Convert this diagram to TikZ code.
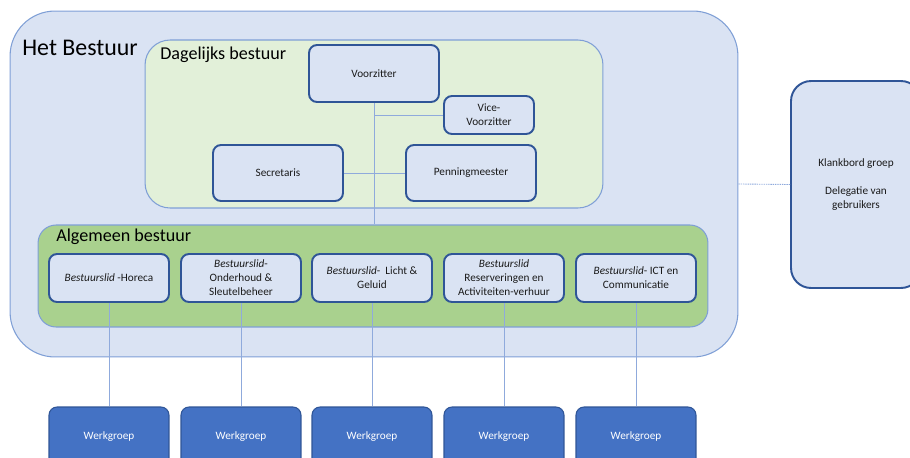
\documentclass[tikz,border=0pt]{standalone}
\usepackage{fontspec}
\setmainfont{Carlito}
\definecolor{bestuurfill}{HTML}{DAE3F3}
\definecolor{groupline}{HTML}{7F9FD6}
\definecolor{dagfill}{HTML}{E2F0D9}
\definecolor{algfill}{HTML}{A9D18E}
\definecolor{boxline}{HTML}{2F5597}
\definecolor{werkfill}{HTML}{4472C4}
\definecolor{linkline}{HTML}{8FAADC}
\definecolor{txt}{HTML}{1A1A1A}
\tikzset{
  group/.style={draw=groupline, line width=0.6pt},
  rolebox/.style={draw=boxline, fill=bestuurfill, line width=1.1pt, rounded corners=0.16cm,
    align=center, text=txt, inner sep=1pt, font=\fontsize{6.4}{8}\selectfont},
  werkbox/.style={draw=boxline, fill=werkfill, line width=0.6pt, rounded corners=0.16cm,
    text=white, minimum width=2.4cm, minimum height=1.2cm, font=\fontsize{6.4}{8}\selectfont},
  link/.style={draw=linkline, line width=0.5pt},
  title/.style={anchor=west, text=black, inner sep=0pt}
}
\begin{document}
\begin{tikzpicture}[x=0.02cm,y=-0.02cm]
    \clip (0,0) rectangle (910,457);
    % groepen
    \node[group, fill=bestuurfill, rounded corners=0.9cm, minimum width=14.56cm, minimum height=6.92cm] (bestuur) at (374,184) {};
    \node[group, fill=dagfill, rounded corners=0.5cm, minimum width=9.16cm, minimum height=3.36cm] (dagelijks) at (374,124) {};
    \node[group, fill=algfill, rounded corners=0.36cm, minimum width=13.4cm, minimum height=2.04cm] (algemeen) at (373,276) {};
    \node[title, font=\fontsize{13.6}{15}\selectfont] (bestuurlabel) at (22,48) {Het Bestuur};
    \node[title, font=\fontsize{10.3}{12}\selectfont] (daglabel) at (160,55) {Dagelijks bestuur};
    \node[title, font=\fontsize{10.3}{12}\selectfont] (alglabel) at (56,237) {Algemeen bestuur};
    % dagelijks bestuur
    \node[rolebox, minimum width=2.6cm, minimum height=1.14cm] (vz) at (374,73.5) {Voorzitter};
    \node[rolebox, minimum width=1.8cm, minimum height=0.76cm] (vice) at (489,115) {Vice-\\Voorzitter};
    \node[rolebox, minimum width=2.6cm, minimum height=1.12cm] (sec) at (278,173) {Secretaris};
    \node[rolebox, minimum width=2.6cm, minimum height=1.12cm] (pen) at (471,173) {Penningmeester};
    \draw[link] (vz.south) -- (vz.south |- algemeen.north);
    \draw[link] (vz.south |- vice.west) -- (vice.west);
    \draw[link] (sec.east) -- (pen.west);
    % algemeen bestuur
    \node[rolebox, minimum width=2.4cm, minimum height=0.96cm] (lid1) at (109,278) {\textit{Bestuurslid} -Horeca};
    \node[rolebox, minimum width=2.4cm, minimum height=0.96cm] (lid2) at (241,278) {\textit{Bestuurslid}-\\Onderhoud \&\\Sleutelbeheer};
    \node[rolebox, minimum width=2.4cm, minimum height=0.96cm] (lid3) at (372,278) {\textit{Bestuurslid}-~~Licht \&\\Geluid};
    \node[rolebox, minimum width=2.4cm, minimum height=0.96cm] (lid4) at (504,278) {\textit{Bestuurslid}\\Reserveringen en\\Activiteiten-verhuur};
    \node[rolebox, minimum width=2.4cm, minimum height=0.96cm] (lid5) at (636,278) {\textit{Bestuurslid}- ICT en\\Communicatie};
    % werkgroepen
    \foreach \i/\x in {1/109,2/241,3/372,4/504,5/636} {
        \node[werkbox] (werk\i) at (\x,437) {Werkgroep};
        \draw[link] (lid\i.south) -- (werk\i.north);
    }
    % klankbord
    \node[rolebox, minimum width=2.6cm, minimum height=4.14cm, rounded corners=0.4cm] (klank) at (856,184.5) {Klankbord groep\\[8pt]Delegatie van\\gebruikers};
    \draw[link, dash pattern=on 0.8pt off 0.5pt] (bestuur.east) -- (klank.west);
\end{tikzpicture}
\end{document}
